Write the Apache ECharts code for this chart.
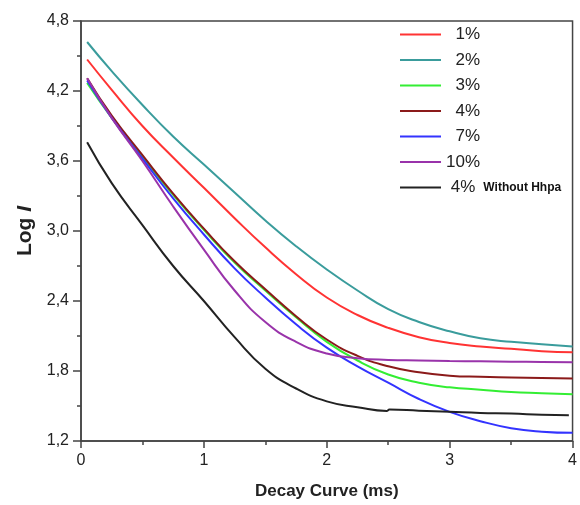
<!DOCTYPE html>
<html>
<head>
<meta charset="utf-8">
<script src="https://cdn.jsdelivr.net/npm/echarts@6/dist/echarts.min.js"></script>
<style>
html,body{margin:0;padding:0;background:#fff;}
#c{width:580px;height:505px;}
</style>
</head>
<body>
<div id="c"></div>
<script>
const xValues = [0.05,0.25,0.5,0.75,1,1.25,1.5,1.75,2,2.25,2.5,2.75,3,3.25,3.5,3.75,4];
const xBlack = [0.05,0.25,0.5,0.75,1,1.25,1.5,1.75,2,2.25,2.49,2.51,2.75,3,3.25,3.5,3.75,3.97];
const seriesNames = ['1%','2%','3%','4%','7%','10%','4% Without Hhpa'];
const y1 = [4.47,4.21,3.90,3.63,3.37,3.11,2.86,2.63,2.43,2.28,2.17,2.09,2.04,2.01,1.99,1.97,1.96];
const y2 = [4.62,4.37,4.08,3.81,3.57,3.33,3.09,2.87,2.67,2.49,2.33,2.22,2.14,2.08,2.05,2.03,2.01];
const y3 = [4.27,3.97,3.63,3.31,3.01,2.73,2.49,2.26,2.05,1.89,1.77,1.70,1.66,1.64,1.62,1.61,1.60];
const y4 = [4.31,3.99,3.65,3.32,3.02,2.74,2.50,2.27,2.07,1.93,1.84,1.79,1.76,1.75,1.745,1.74,1.735];
const y7 = [4.29,3.97,3.62,3.28,2.97,2.68,2.43,2.20,2.00,1.84,1.70,1.56,1.45,1.37,1.31,1.28,1.27];
const y10 = [4.31,3.97,3.60,3.21,2.84,2.49,2.22,2.05,1.95,1.91,1.895,1.89,1.885,1.883,1.88,1.878,1.875];
const yBlack = [3.76,3.41,3.05,2.70,2.40,2.09,1.82,1.65,1.54,1.49,1.458,1.47,1.46,1.45,1.44,1.435,1.425,1.42];
const xTicks = {min:0, max:4, interval:1};
const yTicks = {min:1.2, max:4.8, interval:0.6};

const colors = ['#ff3333','#3a9c9c','#33ee33','#8b1a1a','#3333ff','#9933aa','#222222'];
const allY = [y1,y2,y3,y4,y7,y10,yBlack];
const allX = [xValues,xValues,xValues,xValues,xValues,xValues,xBlack];

const font = 'Arial, "Liberation Sans", sans-serif';
const chart = echarts.init(document.getElementById('c'), null, {renderer:'canvas'});

const series = seriesNames.map((n,i)=>({
  name:n, type:'line', showSymbol:false, symbol:'none',
  smooth:0.5,
  lineStyle:{color:colors[i], width:2},
  itemStyle:{color:colors[i]},
  data: allX[i].map((x,j)=>[x, allY[i][j]])
}));

chart.setOption({
  animation:false,
  backgroundColor:'#fff',
  grid:{left:81, right:3, top:21, bottom:61, show:true, borderColor:'#444', borderWidth:1.5, backgroundColor:'transparent'},
  legend:{
    orient:'vertical', left:395, top:21, itemWidth:41, itemHeight:14, itemGap:8.5,
    icon:'path://M0,0 L41,0 L41,2 L0,2 Z',
    data:seriesNames,
    formatter:function(n){
      if(n==='4% Without Hhpa') return '{p|4%} {s|Without Hhpa}';
      return '{p|'+n+'}';
    },
    textStyle:{
      fontFamily:font, color:'#222',
      rich:{
        p:{fontSize:17, width:34, align:'right', fontFamily:font, color:'#222'},
        s:{fontSize:12, fontWeight:'bold', fontFamily:font, color:'#111'}
      }
    }
  },
  xAxis:{
    type:'value', min:xTicks.min, max:xTicks.max, interval:xTicks.interval,
    name:'Decay Curve (ms)', nameLocation:'middle', nameGap:42,
    nameTextStyle:{fontSize:17, fontWeight:'bold', fontFamily:font, color:'#222'},
    axisLine:{show:true, lineStyle:{color:'#444', width:1.5}},
    axisTick:{show:true, inside:false, length:7, lineStyle:{color:'#444', width:1.5}},
    minorTick:{show:true, splitNumber:2, length:4, lineStyle:{color:'#444', width:1.5}},
    splitLine:{show:false},
    axisLabel:{fontSize:16, color:'#222', fontFamily:font, margin:12}
  },
  yAxis:{
    type:'value', min:yTicks.min, max:yTicks.max, interval:yTicks.interval,
    name:'{a|Log }{b|I}', nameLocation:'middle', nameGap:39, nameRotate:90,
    nameTextStyle:{fontFamily:font, color:'#222',
      rich:{a:{fontSize:21, fontWeight:'bold', fontFamily:font, color:'#222'},
            b:{fontSize:21, fontWeight:'bold', fontStyle:'italic', fontFamily:font, color:'#222'}}},
    axisLine:{show:true, lineStyle:{color:'#444', width:1.5}},
    axisTick:{show:true, inside:false, length:8, lineStyle:{color:'#444', width:1.5}},
    minorTick:{show:true, splitNumber:2, length:4, lineStyle:{color:'#444', width:1.5}},
    splitLine:{show:false},
    axisLabel:{fontSize:16, color:'#222', fontFamily:font, margin:12,
      formatter:function(v){return v.toFixed(1).replace('.',',');}}
  },
  series:series
});
</script>
</body>
</html>
